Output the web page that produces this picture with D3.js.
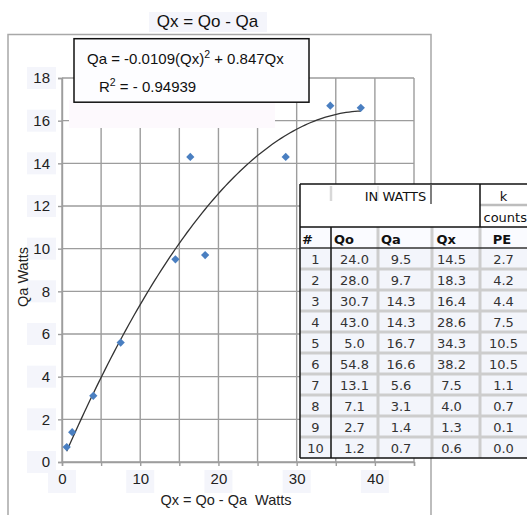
<!DOCTYPE html>
<html>
<head>
<meta charset="utf-8">
<script src="https://cdn.jsdelivr.net/npm/d3@7"></script>
<style>
  html, body { margin: 0; padding: 0; background: #fff; }
  svg { display: block; }
</style>
</head>
<body>
<script>
// ---------- data ----------
const rowIds = [1, 2, 3, 4, 5, 6, 7, 8, 9, 10];
const qo = [24.0, 28.0, 30.7, 43.0, 5.0, 54.8, 13.1, 7.1, 2.7, 1.2];
const qa = [9.5, 9.7, 14.3, 14.3, 16.7, 16.6, 5.6, 3.1, 1.4, 0.7];
const qx = [14.5, 18.3, 16.4, 28.6, 34.3, 38.2, 7.5, 4.0, 1.3, 0.6];
const pe = [2.7, 4.2, 4.4, 7.5, 10.5, 10.5, 1.1, 0.7, 0.1, 0.0];
const tableHeaders = ["#", "Qo", "Qa", "Qx", "PE"];
const xTickValues = [0, 5, 10, 15, 20, 25, 30, 35, 40, 45];
const xTickLabels = [0, 10, 20, 30, 40];
const yTickValues = [0, 2, 4, 6, 8, 10, 12, 14, 16, 18];
const trendCoef = [-0.0109, 0.847];   // Qa = a*Qx^2 + b*Qx
const rSquared = "- 0.94939";
const titleText = "Qx = Qo - Qa";
const xLabel = "Qx = Qo - Qa  Watts";
const yLabel = "Qa Watts";

// ---------- layout ----------
const W = 527, H = 515;
const svg = d3.select("body").append("svg").attr("width", W).attr("height", H);
svg.append("rect").attr("width", W).attr("height", H).attr("fill", "#fff");

const x = d3.scaleLinear().domain([0, 45]).range([62, 414]);
const y = d3.scaleLinear().domain([0, 18]).range([462, 78]);
const chartFont = "'Liberation Sans', Arial, Helvetica, sans-serif";
const faint = "#f4f5fb";

// outer chart border
svg.append("path")
  .attr("d", "M8,520 L8,34.5 L431,34.5 L431,520")
  .attr("fill", "none").attr("stroke", "#a8a8a8").attr("stroke-width", 1.5);

// title
svg.append("rect").attr("x", 149).attr("y", 12).attr("width", 118).attr("height", 20).attr("fill", faint);
svg.append("text").attr("x", 207.5).attr("y", 27)
  .attr("text-anchor", "middle").attr("font-family", chartFont).attr("font-size", 17)
  .attr("fill", "#111").text(titleText);

// grid
const grid = svg.append("g").attr("stroke", "#9d9d9d").attr("stroke-width", 1.4);
grid.selectAll("line.v").data(xTickValues).join("line")
  .attr("x1", d => x(d)).attr("x2", d => x(d)).attr("y1", y(18)).attr("y2", y(0));
grid.selectAll("line.h").data(yTickValues).join("line")
  .attr("x1", x(0)).attr("x2", x(45)).attr("y1", d => y(d)).attr("y2", d => y(d));

// tick label faint backgrounds
svg.append("g").selectAll("rect").data(yTickValues).join("rect")
  .attr("x", 27).attr("y", d => y(d) - 11).attr("width", 29).attr("height", 22).attr("fill", faint);
svg.append("g").selectAll("rect").data(xTickLabels).join("rect")
  .attr("x", d => x(d) - 14).attr("y", 470).attr("width", 28).attr("height", 23).attr("fill", faint);

// axes
const xAxis = d3.axisBottom(x).tickValues(xTickValues)
  .tickFormat(d => xTickLabels.includes(d) ? d : "").tickSize(4).tickPadding(7);
const gx = svg.append("g").attr("transform", `translate(0,${y(0)})`).call(xAxis);
const yAxis = d3.axisLeft(y).tickValues(yTickValues).tickSize(4).tickPadding(8);
const gy = svg.append("g").attr("transform", `translate(${x(0)},0)`).call(yAxis);
[gx, gy].forEach(g => {
  g.select(".domain").attr("stroke", "#9d9d9d").attr("stroke-width", 1.4);
  g.selectAll(".tick line").attr("stroke", "#9d9d9d").attr("stroke-width", 1.4);
  g.selectAll(".tick text").attr("font-family", chartFont).attr("font-size", 15).attr("fill", "#222");
});

// axis labels
svg.append("text").attr("x", 226).attr("y", 505).attr("text-anchor", "middle")
  .style("white-space", "pre")
  .attr("font-family", chartFont).attr("font-size", 14.5).attr("fill", "#222").text(xLabel);
svg.append("text").attr("transform", "translate(28,277) rotate(-90)").attr("text-anchor", "middle")
  .attr("font-family", chartFont).attr("font-size", 14.5).attr("fill", "#222").text(yLabel);

// trend curve from the displayed equation
const xMin = d3.min(qx), xMax = d3.max(qx);
const curvePts = d3.range(0, 101).map(i => {
  const v = xMin + (xMax - xMin) * i / 100;
  return [v, trendCoef[0] * v * v + trendCoef[1] * v];
});
svg.append("path").datum(curvePts)
  .attr("d", d3.line().x(d => x(d[0])).y(d => y(d[1])))
  .attr("fill", "none").attr("stroke", "#333").attr("stroke-width", 1.3);

// points
const points = qx.map((v, i) => ({ qx: v, qa: qa[i] }));
svg.append("g").selectAll("path").data(points).join("path")
  .attr("d", d3.symbol(d3.symbolSquare, 34))
  .attr("transform", d => `translate(${x(d.qx)},${y(d.qa)}) rotate(45)`)
  .attr("fill", "#4a7fc1");

// equation box and the pale patch below it
svg.append("rect").attr("x", 69).attr("y", 100).attr("width", 206).attr("height", 28).attr("fill", "#fdf9fd");
svg.append("rect").attr("x", 74).attr("y", 38.7).attr("width", 235).attr("height", 63.5)
  .attr("fill", "#fdfdff").attr("stroke", "#111").attr("stroke-width", 1.5);
const eq1 = svg.append("text").attr("x", 87).attr("y", 64)
  .attr("font-family", chartFont).attr("font-size", 15).attr("fill", "#111");
eq1.append("tspan").text(`Qa = ${trendCoef[0]}(Qx)`);
eq1.append("tspan").attr("dy", -6).attr("font-size", 10.5).text("2");
eq1.append("tspan").attr("dy", 6).text(` + ${trendCoef[1]}Qx`);
const eq2 = svg.append("text").attr("x", 99).attr("y", 92)
  .attr("font-family", chartFont).attr("font-size", 15).attr("fill", "#111");
eq2.append("tspan").text("R");
eq2.append("tspan").attr("dy", -6).attr("font-size", 10.5).text("2");
eq2.append("tspan").attr("dy", 6).text(` = ${rSquared}`);

// ---------- table ----------
const tFont = "'DejaVu Sans', Verdana, Tahoma, sans-serif";
const colX = [300, 331, 378, 432, 480, 540];
const rowTop = 248, rowH = 21;
const rowY = d3.range(0, 11).map(i => rowTop + i * rowH);
const tBottom = rowY[10];
const T = svg.append("g");

// backgrounds
T.append("rect").attr("x", 300).attr("y", 184).attr("width", 240).attr("height", tBottom - 184).attr("fill", "#fff");
T.append("rect").attr("x", 300).attr("y", 227).attr("width", 240).attr("height", 21).attr("fill", "#fafbff");
T.append("rect").attr("x", 300).attr("y", rowTop).attr("width", 240).attr("height", tBottom - rowTop).attr("fill", "#f3f5fb");

// gray separators
const sep = T.append("g").attr("stroke", "#cdcdcd").attr("stroke-width", 3);
sep.selectAll("line.r").data(rowY.slice(1, 10)).join("line")
  .attr("x1", 300).attr("x2", 540).attr("y1", d => d).attr("y2", d => d);
sep.selectAll("line.c").data(colX.slice(2, 5)).join("line")
  .attr("x1", d => d).attr("x2", d => d).attr("y1", 227).attr("y2", tBottom);
T.append("line").attr("x1", 480).attr("x2", 540).attr("y1", 205).attr("y2", 205)
  .attr("stroke", "#bdbdbd").attr("stroke-width", 2.5);
T.append("line").attr("x1", 331).attr("x2", 331).attr("y1", 186).attr("y2", 201)
  .attr("stroke", "#d8d8d8").attr("stroke-width", 2.5);
T.append("line").attr("x1", 378).attr("x2", 378).attr("y1", 186).attr("y2", 201)
  .attr("stroke", "#ececec").attr("stroke-width", 2);

// black lines
const bl = T.append("g").attr("stroke", "#111").attr("stroke-width", 1.5);
bl.append("line").attr("x1", 300).attr("x2", 540).attr("y1", 184).attr("y2", 184);
bl.append("line").attr("x1", 300).attr("x2", 300).attr("y1", 184).attr("y2", tBottom);
bl.append("line").attr("x1", 300).attr("x2", 540).attr("y1", tBottom).attr("y2", tBottom);
bl.append("line").attr("x1", 300).attr("x2", 540).attr("y1", 227).attr("y2", 227);
bl.append("line").attr("x1", 300).attr("x2", 540).attr("y1", 248).attr("y2", 248).attr("stroke", "#333");
bl.append("line").attr("x1", 331).attr("x2", 331).attr("y1", 227).attr("y2", tBottom);
bl.append("line").attr("x1", 480).attr("x2", 480).attr("y1", 184).attr("y2", 227);
bl.append("line").attr("x1", 431).attr("x2", 431).attr("y1", 184).attr("y2", 204).attr("stroke", "#555");

// header texts
T.append("text").attr("x", 395.5).attr("y", 201).attr("text-anchor", "middle")
  .attr("font-family", tFont).attr("font-size", 13).attr("fill", "#111").text("IN WATTS");
T.append("text").attr("x", 503.5).attr("y", 201).attr("text-anchor", "middle")
  .attr("font-family", tFont).attr("font-size", 13).attr("fill", "#111").text("k");
T.append("text").attr("x", 483.5).attr("y", 221.5)
  .attr("font-family", tFont).attr("font-size", 13).attr("fill", "#111").text("counts");
const hdrX = [302, 334, 381, 436.5, 502];
const hdrAnchor = ["start", "start", "start", "start", "middle"];
T.selectAll("text.h").data(tableHeaders).join("text")
  .attr("x", (d, i) => hdrX[i]).attr("y", 244).attr("text-anchor", (d, i) => hdrAnchor[i])
  .attr("font-family", tFont).attr("font-size", 13).attr("font-weight", "bold").attr("fill", "#111")
  .text(d => d);

// data cells
const colCenters = [315.5, 354.5, 401, 451.5, 503.5];
const cols = [rowIds.map(String), qo.map(v => v.toFixed(1)), qa.map(v => v.toFixed(1)),
              qx.map(v => v.toFixed(1)), pe.map(v => v.toFixed(1))];
cols.forEach((vals, c) => {
  T.append("g").selectAll("text").data(vals).join("text")
    .attr("x", colCenters[c]).attr("y", (d, i) => rowY[i] + 15.5).attr("text-anchor", "middle")
    .attr("font-family", tFont).attr("font-size", 13).attr("fill", "#333").text(d => d);
});
</script>
</body>
</html>
